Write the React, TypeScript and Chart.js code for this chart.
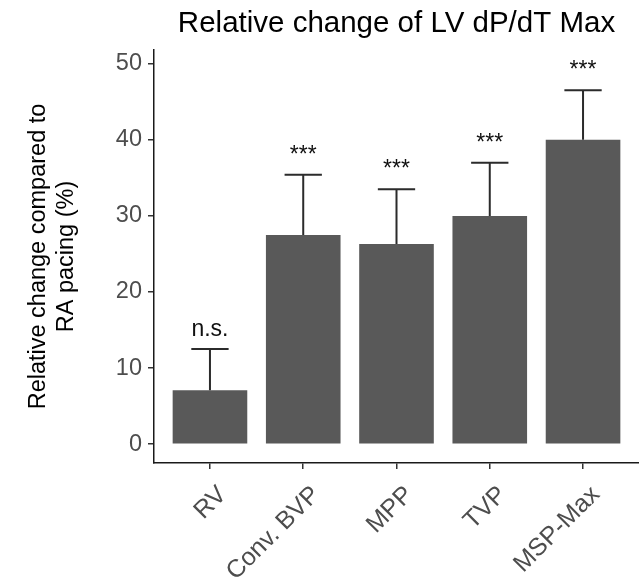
import React, { useEffect, useRef } from "react";
import { Chart, registerables } from "chart.js";

Chart.register(...registerables);

const categories = ["RV", "Conv. BVP", "MPP", "TVP", "MSP-Max"];
const means = [7.1, 27.5, 26.3, 30.0, 40.0];
const errors = [5.4, 7.9, 7.2, 7.0, 6.5];
const sigLabels = ["n.s.", "***", "***", "***", "***"];
const yTicks = [0, 10, 20, 30, 40, 50];
const titleText = "Relative change of LV dP/dT Max";
const yTitle = ["Relative change compared to", "RA pacing (%)"];

const FONT = "'Liberation Sans', Arial, Helvetica, sans-serif";

const overlayPlugin = {
  id: "overlay",
  afterDatasetsDraw(chart: any) {
    const { ctx, scales, chartArea } = chart;
    const xs = scales.x;
    const ys = scales.y;
    ctx.save();
    // error bars
    ctx.strokeStyle = "#2b2b2b";
    ctx.lineWidth = 2;
    categories.forEach((_, i) => {
      const pos = i + 1;
      const cx = xs.getPixelForValue(pos);
      const half = xs.getPixelForValue(pos + 0.2) - cx;
      const yTop = ys.getPixelForValue(means[i] + errors[i]);
      const yMean = ys.getPixelForValue(means[i]);
      ctx.beginPath();
      ctx.moveTo(cx, yMean);
      ctx.lineTo(cx, yTop);
      ctx.moveTo(cx - half, yTop);
      ctx.lineTo(cx + half, yTop);
      ctx.stroke();
    });
    // significance labels
    ctx.fillStyle = "#111";
    ctx.font = `23px ${FONT}`;
    ctx.textAlign = "center";
    ctx.textBaseline = "alphabetic";
    categories.forEach((_, i) => {
      const cx = xs.getPixelForValue(i + 1);
      const y = ys.getPixelForValue(means[i] + errors[i] + 1.7);
      ctx.fillText(sigLabels[i], cx, y);
    });
    // title centred over the panel
    ctx.font = `29.5px ${FONT}`;
    ctx.fillStyle = "#000";
    ctx.fillText(titleText, (chartArea.left + chartArea.right) / 2, 32);
    ctx.restore();
  },
};

export default function App() {
  const ref = useRef<HTMLCanvasElement | null>(null);

  useEffect(() => {
    document.body.style.margin = "0";
    const canvas = ref.current;
    if (!canvas) return;
    const chart = new Chart(canvas, {
      type: "bar",
      data: {
        datasets: [
          {
            data: categories.map((_, i) => ({ x: i + 1, y: means[i] })),
            backgroundColor: "#595959",
            borderWidth: 0,
            categoryPercentage: 0.8,
            barPercentage: 1.0,
          },
        ],
      },
      options: {
        animation: false,
        responsive: false,
        maintainAspectRatio: false,
        layout: { padding: { top: 50, left: 0, right: 0, bottom: 0 } },
        plugins: {
          legend: { display: false },
          tooltip: { enabled: false },
          title: { display: false },
        },
        scales: {
          x: {
            type: "linear",
            min: 0.4,
            max: 5.6,
            offset: false,
            afterBuildTicks: (scale: any) => {
              scale.ticks = categories.map((_, i) => ({ value: i + 1 }));
            },
            afterFit: (scale: any) => {
              scale.height = 119;
            },
            grid: {
              display: true,
              offset: false,
              drawOnChartArea: false,
              drawTicks: true,
              tickLength: 6,
              color: "#333333",
              lineWidth: 1.5,
            },
            border: { display: true, color: "#1a1a1a", width: 1.5 },
            ticks: {
              autoSkip: false,
              minRotation: 45,
              maxRotation: 45,
              padding: 9,
              color: "#4d4d4d",
              font: { family: FONT, size: 25, lineHeight: 1.45 },
              showLabelBackdrop: true,
              backdropColor: "rgba(0,0,0,0)",
              backdropPadding: 0,
              callback: (value: any) => categories[Math.round(Number(value)) - 1] ?? "",
            },
          },
          y: {
            type: "linear",
            min: -2.47,
            max: 51.8,
            afterBuildTicks: (scale: any) => {
              scale.ticks = yTicks.map((v) => ({ value: v }));
            },
            afterFit: (scale: any) => {
              scale.width = 154;
            },
            grid: {
              display: true,
              drawOnChartArea: false,
              drawTicks: true,
              tickLength: 6,
              color: "#333333",
              lineWidth: 1.5,
            },
            border: { display: true, color: "#1a1a1a", width: 1.5 },
            ticks: {
              padding: 6,
              color: "#4d4d4d",
              font: { family: FONT, size: 23.5 },
              callback: (value: any) => String(value),
            },
            title: {
              display: true,
              text: yTitle,
              color: "#000",
              font: { family: FONT, size: 23.5, lineHeight: 1.18 },
              padding: { top: 25, bottom: 0 },
            },
          },
        },
      },
      plugins: [overlayPlugin],
    } as any);
    return () => chart.destroy();
  }, []);

  return (
    <div style={{ width: 639, height: 582 }}>
      <canvas ref={ref} width={639} height={582} style={{ display: "block" }} />
    </div>
  );
}
